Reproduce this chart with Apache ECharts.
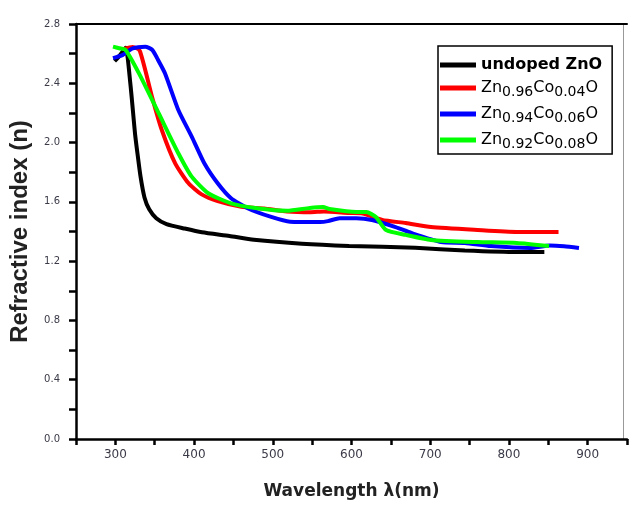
<!DOCTYPE html>
<html>
<head>
<meta charset="utf-8">
<script src="https://cdn.jsdelivr.net/npm/echarts@6/dist/echarts.min.js"></script>
<style>
html,body{margin:0;padding:0;background:#fff;}
#chart{width:630px;height:505px;}
</style>
</head>
<body>
<div id="chart"></div>
<script>
// ---- data ([wavelength nm, refractive index n]) ----
const seriesNames = ['undoped ZnO', 'Zn0.96Co0.04O', 'Zn0.94Co0.06O', 'Zn0.92Co0.08O'];
const seriesColors = ['#000000', '#ff0000', '#0000ff', '#00ff00'];

const undopedZnO = [[299,2.55],[306,2.59],[313,2.64],[319,2.40],[325,2.06],[328,1.93],[332,1.77],[337,1.63],[343,1.55],[352,1.49],[365,1.45],[388,1.42],[410,1.395],[445,1.37],[476,1.345],[537,1.318],[597,1.303],[681,1.29],[744,1.272],[813,1.262],[845,1.262]];
const zn096 = [[310,2.63],[322,2.645],[331,2.62],[347,2.30],[359,2.085],[376,1.86],[393,1.725],[409,1.652],[430,1.605],[460,1.567],[489,1.555],[518,1.535],[548,1.53],[565,1.535],[597,1.525],[614,1.522],[639,1.478],[669,1.457],[701,1.43],[760,1.41],[810,1.397],[863,1.397]];
const zn094 = [[297,2.57],[309,2.59],[322,2.635],[338,2.647],[347,2.625],[353,2.57],[363,2.468],[380,2.22],[397,2.04],[413,1.86],[430,1.725],[447,1.624],[468,1.557],[497,1.5],[522,1.466],[560,1.464],[570,1.47],[585,1.49],[606,1.49],[626,1.478],[656,1.43],[676,1.39],[714,1.329],[744,1.323],[777,1.302],[827,1.289],[852,1.305],[870,1.3],[889,1.289]];
const zn092 = [[297,2.647],[305,2.636],[313,2.625],[330,2.467],[355,2.198],[380,1.928],[397,1.77],[418,1.658],[447,1.59],[480,1.557],[518,1.54],[547,1.559],[564,1.565],[572,1.552],[606,1.532],[619,1.532],[631,1.498],[644,1.41],[669,1.377],[701,1.343],[760,1.329],[810,1.323],[851,1.302]];
const seriesData = [undopedZnO, zn096, zn094, zn092];

const xTickLabels = ['300','400','500','600','700','800','900'];
const yTickLabels = ['0.0','0.4','0.8','1.2','1.6','2.0','2.4','2.8'];

// ---- chart ----
const chart = echarts.init(document.getElementById('chart'), null, {renderer: 'canvas'});

function legendFmt(name) {
  if (!/\d/.test(name)) return '{b|' + name + '}';
  return name.split(/(\d\.\d+)/).filter(s => s.length).map(s =>
    /\d\.\d+/.test(s) ? '{s|' + s + '}' : '{m|' + s + '}'
  ).join('');
}

const option = {
  animation: false,
  backgroundColor: '#ffffff',
  grid: {left: 73, top: 24, right: -2, bottom: 66, containLabel: false},
  legend: {
    data: seriesNames,
    orient: 'vertical',
    left: 438, top: 46,
    padding: [11, 10, 3, 2],
    itemGap: 7,
    itemWidth: 36, itemHeight: 5,
    icon: 'rect',
    borderColor: '#000', borderWidth: 1.5,
    backgroundColor: '#fff',
    formatter: legendFmt,
    textStyle: {
      color: '#000',
      rich: {
        b: {fontFamily: 'DejaVu Sans', fontWeight: 'bold', fontSize: 16, lineHeight: 16, color: '#000'},
        m: {fontFamily: 'DejaVu Sans', fontSize: 16, lineHeight: 22, color: '#000'},
        s: {fontFamily: 'DejaVu Sans', fontSize: 14, lineHeight: 12, verticalAlign: 'bottom', color: '#000'}
      }
    }
  },
  xAxis: [{
    type: 'value', min: 250, max: 950, interval: 50,
    name: 'Wavelength λ(nm)', nameLocation: 'middle', nameGap: 44,
    nameTextStyle: {fontFamily: 'DejaVu Sans', fontWeight: 'bold', fontSize: 17, color: '#222'},
    axisLine: {show: true, onZero: false, lineStyle: {color: '#000', width: 2.5}},
    axisTick: {show: true, inside: false, length: 6, lineStyle: {color: '#000', width: 2.5}},
    axisLabel: {
      margin: 10, color: '#3a3a48', fontFamily: 'DejaVu Sans', fontSize: 12,
      formatter: v => xTickLabels.includes(String(v)) ? String(v) : ''
    },
    splitLine: {show: false}
  }, {
    type: 'value', min: 250, max: 950, position: 'top',
    axisLine: {show: true, onZero: false, lineStyle: {color: '#000', width: 2}},
    axisTick: {show: false}, axisLabel: {show: false}, splitLine: {show: false}
  }],
  yAxis: [{
    type: 'value', min: 0, max: 2.8, interval: 0.2,
    name: 'Refractive index (n)', nameLocation: 'middle', nameGap: 44,
    nameTextStyle: {fontFamily: 'Liberation Sans', fontWeight: 'bold', fontSize: 24, color: '#222'},
    axisLine: {show: true, onZero: false, lineStyle: {color: '#000', width: 2.5}},
    axisTick: {show: true, inside: false, length: 7, lineStyle: {color: '#000', width: 2.5}},
    axisLabel: {
      margin: 16, color: '#3a3a48', fontFamily: 'DejaVu Sans', fontSize: 10,
      formatter: v => { const s = v.toFixed(1); return yTickLabels.includes(s) ? s : ''; }
    },
    splitLine: {show: false}
  }, {
    type: 'value', min: 0, max: 2.8, position: 'right', offset: -4,
    axisLine: {show: true, onZero: false, lineStyle: {color: '#999', width: 1}},
    axisTick: {show: false}, axisLabel: {show: false}, splitLine: {show: false}
  }],
  series: seriesNames.map((n, i) => ({
    name: n, type: 'line', data: seriesData[i],
    xAxisIndex: 0, yAxisIndex: 0,
    showSymbol: false, symbol: 'none', smooth: 0.2,
    lineStyle: {color: seriesColors[i], width: 4},
    itemStyle: {color: seriesColors[i]},
    z: 2 + i
  }))
};
chart.setOption(option);
</script>
</body>
</html>
